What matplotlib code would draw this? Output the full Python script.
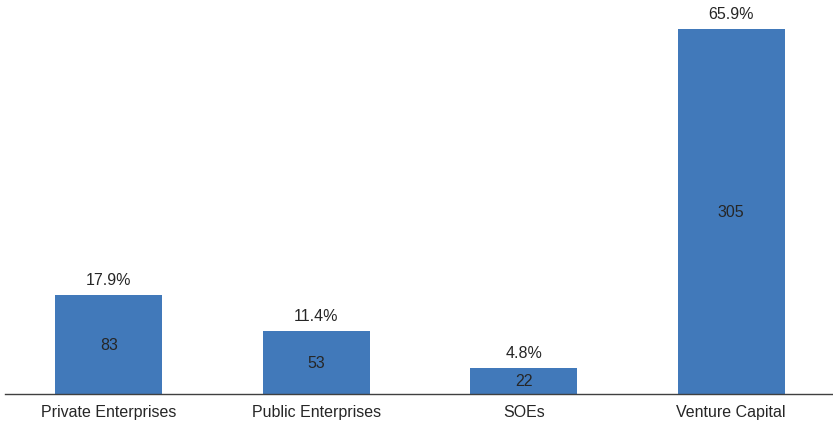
import matplotlib.pyplot as plt

categories = ['Private Enterprises', 'Public Enterprises', 'SOEs', 'Venture Capital']
counts = [83, 53, 22, 305]
shares = ['17.9%', '11.4%', '4.8%', '65.9%']

plt.rcParams['font.family'] = ['Liberation Sans', 'DejaVu Sans']
txt_color = '#262626'
bar_color = '#4179BA'

fig = plt.figure(figsize=(8.33, 4.27), dpi=100)
ax = fig.add_axes([5 / 833, 32 / 427, 830 / 833, 395 / 427])

x = range(len(categories))
bars = ax.bar(x, counts, width=0.515, color=bar_color)

for b, c, s in zip(bars, counts, shares):
    cx = b.get_x() + b.get_width() / 2
    ax.text(cx, c / 2, str(c), ha='center', va='center', fontsize=11.5, color=txt_color)
    ax.annotate(s, (cx, c), xytext=(0, 5.5), textcoords='offset points',
                ha='center', va='bottom', fontsize=11.5, color=txt_color)

ax.set_xlim(-0.5, 3.5)
ax.set_ylim(0, 330)
ax.set_xticks(list(x))
ax.set_xticklabels(categories, fontsize=11.5, color=txt_color)
ax.tick_params(axis='x', length=0, pad=7)
ax.set_yticks([])
for side in ['top', 'right', 'left']:
    ax.spines[side].set_visible(False)
ax.spines['bottom'].set_color('#404040')
ax.spines['bottom'].set_linewidth(1.0)

fig.savefig('out.png', dpi=100)
